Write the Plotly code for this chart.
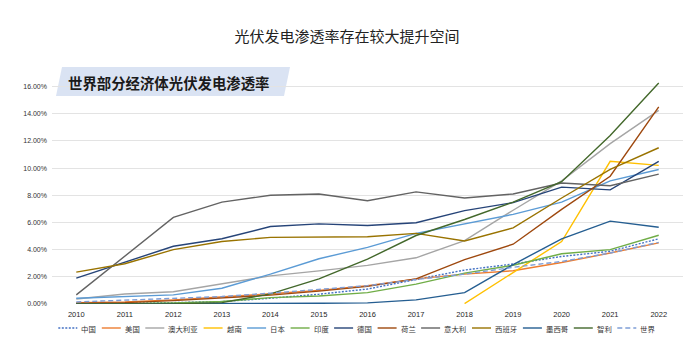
import plotly.graph_objects as go

years = list(range(2010, 2023))

series_names = ["中国", "美国", "澳大利亚", "越南", "日本", "印度", "德国", "荷兰",
                "意大利", "西班牙", "墨西哥", "智利", "世界"]

china = [0.02, 0.05, 0.10, 0.18, 0.42, 0.72, 1.10, 1.80, 2.50, 2.94, 3.50, 3.88, 4.80]
usa = [0.10, 0.15, 0.30, 0.50, 0.75, 1.00, 1.35, 1.85, 2.20, 2.45, 3.05, 3.75, 4.50]
australia = [0.37, 0.74, 0.90, 1.50, 2.07, 2.44, 2.84, 3.40, 4.67, 6.90, 9.06, 11.80, 14.25]
vietnam = [None, None, None, None, None, None, None, None, 0.03, 2.30, 4.60, 10.50, 10.20]
japan = [0.42, 0.54, 0.67, 1.16, 2.20, 3.33, 4.17, 5.20, 5.90, 6.60, 7.50, 9.06, 9.90]
india = [0.01, 0.02, 0.08, 0.18, 0.47, 0.59, 0.84, 1.46, 2.27, 2.85, 3.70, 4.00, 5.06]
germany = [1.90, 3.10, 4.25, 4.80, 5.70, 5.90, 5.78, 5.98, 6.87, 7.46, 8.60, 8.40, 10.50]
netherlands = [0.05, 0.10, 0.25, 0.45, 0.65, 0.95, 1.30, 1.85, 3.26, 4.40, 6.96, 9.40, 14.50]
italy = [0.67, 3.50, 6.37, 7.50, 8.00, 8.10, 7.60, 8.25, 7.80, 8.10, 8.90, 8.70, 9.56]
spain = [2.35, 2.96, 4.00, 4.60, 4.90, 4.90, 4.95, 5.20, 4.64, 5.60, 7.80, 9.90, 11.50]
mexico = [0.00, 0.00, 0.00, 0.01, 0.02, 0.05, 0.08, 0.30, 0.84, 2.90, 4.80, 6.10, 5.65]
chile = [0.00, 0.00, 0.01, 0.10, 0.74, 1.85, 3.30, 5.04, 6.22, 7.50, 9.00, 12.40, 16.27]
world = [0.15, 0.30, 0.40, 0.55, 0.80, 1.05, 1.35, 1.80, 2.20, 2.70, 3.13, 3.75, 4.54]

series_values = [china, usa, australia, vietnam, japan, india, germany, netherlands,
                 italy, spain, mexico, chile, world]

y_tick_values = [0, 2, 4, 6, 8, 10, 12, 14, 16]

title_text = "光伏发电渗透率存在较大提升空间"
banner_text = "世界部分经济体光伏发电渗透率"

colors = ["#4472C4", "#ED7D31", "#A5A5A5", "#FFC000", "#5B9BD5", "#70AD47", "#264478",
          "#9E480E", "#636363", "#997300", "#255E91", "#43682B", "#7F9ED6"]
dashes = ["2px,1.5px", "solid", "solid", "solid", "solid", "solid", "solid", "solid",
          "solid", "solid", "solid", "solid", "5px,3px"]

W, H = 694, 345
L, R, T, B = 52, 11, 73, 41
PW, PH = W - L - R, H - T - B


def xp(px):
    return (px - L) / PW


def yp(py):
    return (H - B - py) / PH


CJK = "Noto Sans CJK SC"
LAT = "Liberation Sans, Arial, Noto Sans CJK SC"

fig = go.Figure()
for name, vals, c, d in zip(series_names, series_values, colors, dashes):
    fig.add_trace(go.Scatter(
        x=years, y=[None if v is None else v / 100 for v in vals],
        mode="lines", name=name, showlegend=False,
        line=dict(color=c, width=1.4, dash=d),
        connectgaps=False,
    ))

shapes = []
annotations = []

# banner parallelogram
shapes.append(dict(
    type="path", xref="paper", yref="paper",
    path=f"M {xp(56)} {yp(96)} L {xp(62)} {yp(67)} L {xp(290)} {yp(67)} L {xp(284)} {yp(96)} Z",
    fillcolor="#DAE3F3", line=dict(width=0), layer="below",
))
annotations.append(dict(
    xref="paper", yref="paper", x=xp(66), y=yp(82), xanchor="left", yanchor="middle",
    text=f"<b>{banner_text}</b>", showarrow=False,
    font=dict(family=CJK, size=14.4, color="#1A1A1A"),
))

# custom legend
cx = 58.3
ly = 328
char_w = 7.4
for name, c, d in zip(series_names, colors, dashes):
    shapes.append(dict(
        type="line", xref="paper", yref="paper",
        x0=xp(cx), x1=xp(cx + 19), y0=yp(ly), y1=yp(ly),
        line=dict(color=c, width=1.4, dash=d),
    ))
    annotations.append(dict(
        xref="paper", yref="paper", x=xp(cx + 21), y=yp(ly), xanchor="left", yanchor="middle",
        text=name, showarrow=False, font=dict(family=CJK, size=7.4, color="#333333"),
    ))
    cx = cx + 21 + char_w * len(name) + 7.7

fig.update_layout(
    width=W, height=H,
    margin=dict(l=L, r=R, t=T, b=B, pad=0),
    paper_bgcolor="white", plot_bgcolor="white",
    title=dict(text=title_text, x=0.5, xanchor="center", xref="container",
               y=1 - 37 / H, yanchor="middle", yref="container",
               font=dict(family=CJK, size=15, color="#222222")),
    xaxis=dict(range=[2009.5, 2022.5], tickvals=years, ticktext=[str(y) for y in years],
               showgrid=False, zeroline=False, showline=False, ticks="",
               tickfont=dict(family=LAT, size=7.5, color="#262626"), ticklabelstandoff=4),
    yaxis=dict(range=[0, 0.17], tickvals=[v / 100 for v in y_tick_values], tickformat=".2%",
               showgrid=True, gridcolor="#E3E3E3", gridwidth=1, zeroline=False,
               showline=False, ticks="",
               tickfont=dict(family=LAT, size=7, color="#333333"), ticklabelstandoff=4),
    shapes=shapes, annotations=annotations,
    showlegend=False,
)

fig.write_html("out.html")
